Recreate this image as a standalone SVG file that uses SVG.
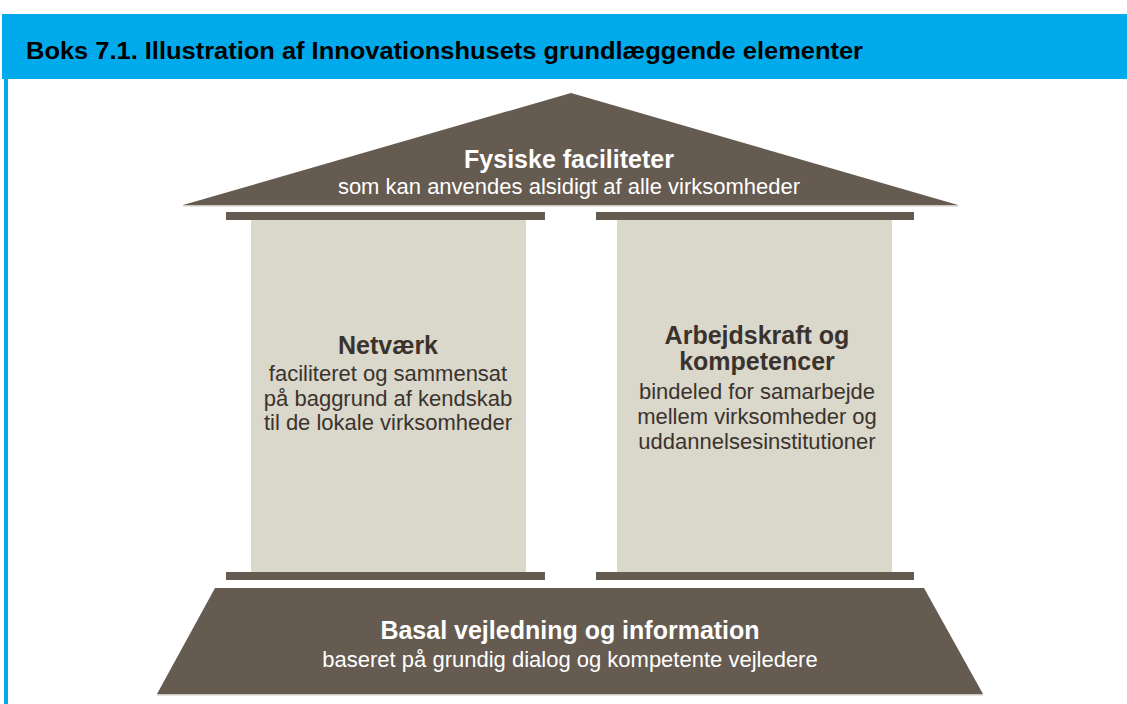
<svg xmlns="http://www.w3.org/2000/svg" width="1127" height="704" viewBox="0 0 1127 704">
<style>
.br{fill:#665b51}
.pl{fill:#dad7cb}
.wt{fill:#ffffff;font-family:"Liberation Sans",Arial,sans-serif;text-anchor:middle}
.dk{fill:#3a332d;font-family:"Liberation Sans",Arial,sans-serif;text-anchor:middle}
.b{font-weight:bold;font-size:25px}
.r{font-size:22px}
</style>
<rect x="0" y="0" width="1127" height="704" fill="#ffffff"/>
<g id="header">
<rect x="2" y="14" width="1125" height="65" fill="#00aaeb"/>
<rect x="4" y="79" width="4" height="625" fill="#00aaeb"/>
<text x="26" y="59" font-family="'Liberation Sans',Arial,sans-serif" font-weight="bold" font-size="23" textLength="837" lengthAdjust="spacingAndGlyphs" fill="#000">Boks 7.1. Illustration af Innovationshusets grundlæggende elementer</text>
</g>
<g id="roof">
<polygon class="br" points="571,93 958,205 183,205"/>
<rect x="183" y="205" width="775" height="1.5" fill="#cfc9c2"/>
<text class="wt b" x="569" y="168">Fysiske faciliteter</text>
<text class="wt r" x="569" y="194">som kan anvendes alsidigt af alle virksomheder</text>
</g>
<g id="beams">
<rect class="br" x="226" y="212" width="319" height="8"/>
<rect class="br" x="596" y="212" width="318" height="8"/>
<rect class="br" x="226" y="572" width="319" height="8"/>
<rect class="br" x="596" y="572" width="318" height="8"/>
</g>
<g id="netvaerk">
<rect class="pl" x="251" y="220" width="275" height="352"/>
<text class="dk b" x="388" y="354">Netværk</text>
<text class="dk r" x="388" y="381">faciliteret og sammensat</text>
<text class="dk r" x="388" y="406">på baggrund af kendskab</text>
<text class="dk r" x="388" y="430">til de lokale virksomheder</text>
</g>
<g id="arbejdskraft">
<rect class="pl" x="617" y="220" width="275" height="352"/>
<text class="dk b" x="757" y="344">Arbejdskraft og</text>
<text class="dk b" x="757" y="370">kompetencer</text>
<text class="dk r" x="757" y="399">bindeled for samarbejde</text>
<text class="dk r" x="757" y="424">mellem virksomheder og</text>
<text class="dk r" x="757" y="449">uddannelsesinstitutioner</text>
</g>
<g id="base">
<polygon class="br" points="215,588 924,588 983,694 157,694"/>
<rect x="157" y="694" width="826" height="1.5" fill="#cfc9c2"/>
<text class="wt b" x="570" y="639">Basal vejledning og information</text>
<text class="wt r" x="570" y="667">baseret på grundig dialog og kompetente vejledere</text>
</g>
</svg>
